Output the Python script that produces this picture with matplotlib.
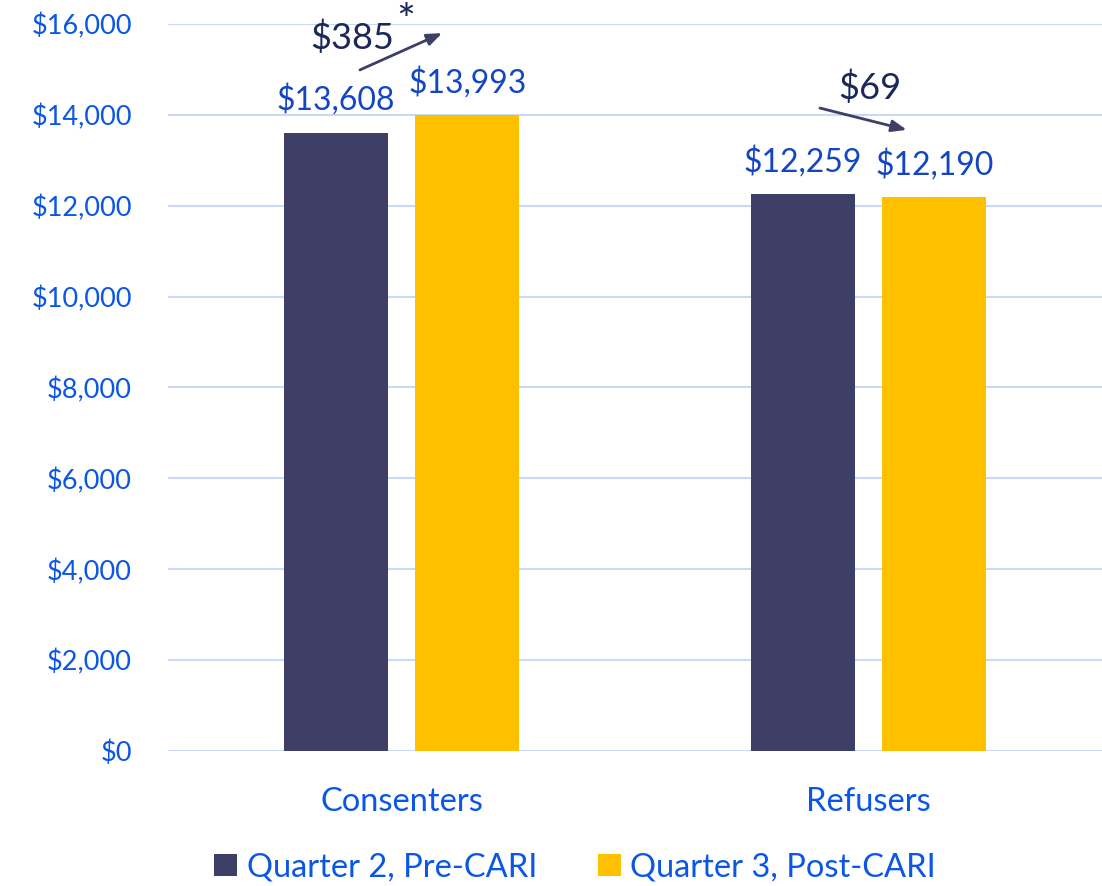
import numpy as np
import matplotlib
matplotlib.use("Agg")
import matplotlib.pyplot as plt
from matplotlib.ticker import FuncFormatter

matplotlib.rcParams['font.family'] = ['Lato', 'DejaVu Sans']

categories = ["Consenters", "Refusers"]
series_names = ["Quarter 2, Pre-CARI", "Quarter 3, Post-CARI"]
q2_values = [13608, 12259]
q3_values = [13993, 12190]
change_labels = ["$385", "$69"]
change_stars = ["*", ""]

DARK = "#3E3F66"
GOLD = "#FFC000"
TICK_BLUE = "#0A56E6"
LABEL_BLUE = "#1446C4"
NAVY = "#1C2858"
GRID = "#C9DAF8"

fig = plt.figure(figsize=(11.02, 8.86), dpi=100)
ax = fig.add_axes([0.1525, 0.1524, 0.8475, 0.8205])

x = np.arange(len(categories))
w = 0.223
off = 0.141
b1 = ax.bar(x - off, q2_values, w, color=DARK, label=series_names[0], zorder=3)
b2 = ax.bar(x + off, q3_values, w, color=GOLD, label=series_names[1], zorder=3)

for bars in (b1, b2):
    for rect in bars:
        v = rect.get_height()
        ax.annotate(f"${v:,.0f}", (rect.get_x() + rect.get_width() / 2, v),
                    xytext=(0, 12), textcoords="offset points",
                    ha="center", va="bottom", fontsize=23, color=LABEL_BLUE)

# change arrows between the two quarters
for i in range(len(categories)):
    up = q3_values[i] > q2_values[i]
    if up:
        start = (x[i] - 0.089, 14990)
        end = (x[i] + 0.087, 15800)
        txt_xy = (x[i] - 0.105, 15700)
    else:
        start = (x[i] - 0.104, 14150)
        end = (x[i] + 0.082, 13670)
        txt_xy = (x[i] + 0.002, 14600)
    ax.annotate("", xy=end, xytext=start,
                arrowprops=dict(arrowstyle="-|>,head_length=0.9,head_width=0.35",
                                color=DARK, lw=2, shrinkA=0, shrinkB=0),
                annotation_clip=False)
    ax.text(txt_xy[0], txt_xy[1], change_labels[i], ha="center", va="center",
            fontsize=26, color=NAVY, clip_on=False)
    if change_stars[i]:
        ax.text(x[i] + 0.008, 16040, change_stars[i], ha="center", va="center",
                fontsize=32, color=NAVY, clip_on=False)

ax.set_xlim(-0.5, 1.5)
ax.set_ylim(0, 16000)
ax.set_yticks(np.arange(0, 16001, 2000))
ax.yaxis.set_major_formatter(FuncFormatter(lambda v, p: f"${v:,.0f}"))
ax.set_xticks(x)
ax.set_xticklabels(categories)
ax.tick_params(axis="y", length=0, pad=26, labelsize=19.5, labelcolor=TICK_BLUE)
ax.tick_params(axis="x", length=0, pad=26, labelsize=23.5, labelcolor=TICK_BLUE)
ax.grid(axis="y", color=GRID, lw=1.5, zorder=0)
for s in ax.spines.values():
    s.set_visible(False)

leg = fig.legend(handles=[b1, b2], labels=series_names, loc="center",
                 bbox_to_anchor=(0.522, 0.021), ncol=2, frameon=False,
                 fontsize=23.5, handlelength=0.7, handleheight=0.7,
                 handletextpad=0.3, columnspacing=1.85)
for t in leg.get_texts():
    t.set_color(TICK_BLUE)

fig.savefig("out.png", dpi=100)
